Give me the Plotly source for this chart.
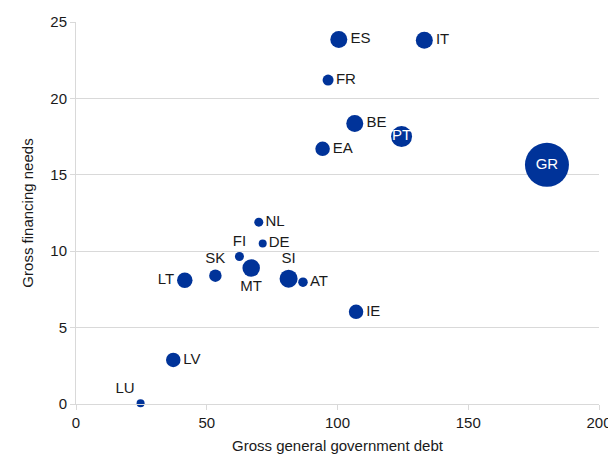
import plotly.graph_objects as go

countries = ["ES", "IT", "FR", "BE", "PT", "EA", "GR", "NL", "DE", "FI",
             "SK", "MT", "LT", "SI", "AT", "IE", "LV", "LU"]
debt = [100.5, 133.2, 96.4, 106.6, 124.5, 94.3, 180.1, 69.9, 71.4, 62.5,
        53.3, 67.0, 41.6, 81.3, 86.8, 107.1, 37.2, 24.7]
financing = [23.85, 23.8, 21.2, 18.35, 17.5, 16.7, 15.65, 11.9, 10.5, 9.65,
             8.4, 8.9, 8.1, 8.2, 7.97, 6.03, 2.88, 0.05]
bubble_value = [17, 17, 11, 17, 21, 14.5, 44, 9, 8, 9,
                12.5, 17.5, 15.5, 18, 9.5, 14.5, 14.5, 8]
label_pos = ["middle right", "middle right", "middle right", "middle right", "middle center",
             "middle right", "middle center", "middle right", "middle right", "top center",
             "top center", "bottom center", "middle left", "top center", "middle right",
             "middle right", "middle right", "top left"]
label_color = ["#1a1a1a" if c not in ("GR", "PT") else "white" for c in countries]

FONT = "Liberation Sans, Arial, sans-serif"

fig = go.Figure(go.Scatter(
    x=debt, y=financing, mode="markers+text",
    text=countries, textposition=label_pos,
    textfont=dict(family=FONT, size=15, color=label_color),
    marker=dict(size=bubble_value, sizemode="diameter", sizeref=1,
                color="#003399", opacity=1, line=dict(width=0)),
    cliponaxis=False, showlegend=False,
))

fig.update_layout(
    width=608, height=446,
    margin=dict(l=68, r=17, t=14, b=50),
    paper_bgcolor="white", plot_bgcolor="white",
    font=dict(family=FONT, size=15, color="#1a1a1a"),
    xaxis=dict(range=[0, 200], tickvals=[0, 50, 100, 150, 200], showgrid=False,
               automargin=False,
               zeroline=False, showline=True, linecolor="#d9d9d9", linewidth=1,
               ticks="outside", ticklen=5, tickcolor="#d9d9d9",
               title=dict(text="Gross general government debt", standoff=10,
                          font=dict(size=15))),
    yaxis=dict(range=[0, 25], tickvals=[0, 5, 10, 15, 20, 25], showgrid=True,
               automargin=False,
               gridcolor="#d9d9d9", gridwidth=1, zeroline=False,
               showline=True, linecolor="#d9d9d9", linewidth=1,
               ticks="outside", ticklen=5, tickcolor="#d9d9d9",
               title=dict(text="Gross financing needs", standoff=13,
                          font=dict(size=15))),
)

fig.write_html("out.html")
